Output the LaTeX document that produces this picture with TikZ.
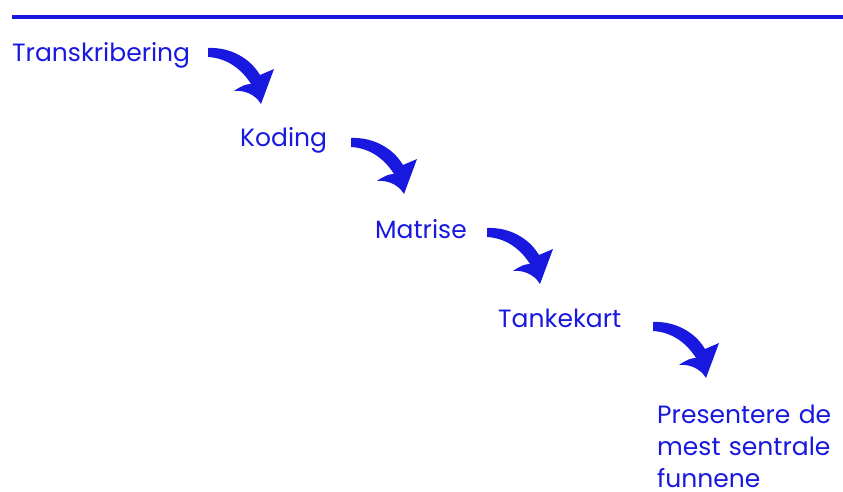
\documentclass[tikz,border=0pt]{standalone}
\usepackage{fontspec}
\setmainfont{Poppins}
\definecolor{ablue}{RGB}{24,24,222}
\begin{document}
\begin{tikzpicture}[x=1pt,y=-1pt,
  lbl/.style={anchor=base west,inner sep=0pt,text=ablue,font=\fontsize{25}{32}\selectfont},
  bendarrow/.pic={
    \fill[ablue] (0,0) .. controls (22,-1) and (42,10) .. (52,27)
     -- (66,21) -- (53,56)
     .. controls (47,46) and (36,42) .. (26,43)
     .. controls (33,38) and (38,36) .. (43,36)
     .. controls (33,20) and (18,10) .. (0,9) -- cycle;
  }]
\useasboundingbox (0,0) rectangle (843,491);
\draw[ablue,line width=4pt] (12,17) -- (843,17);
\node[lbl] (t1) at (12,61) {Transkribering};
\node[lbl] (t2) at (240,146) {Koding};
\node[lbl] (t3) at (375,238) {Matrise};
\node[lbl] (t4) at (498,327) {Tankekart};
\node[lbl,align=left,text width=185pt,anchor=north west,text depth=0pt] (t5) at (657,405) {Presentere de\\mest sentrale\\funnene};
\coordinate (a1) at (208,48);
\coordinate (a2) at (351,138);
\coordinate (a3) at (487,228);
\coordinate (a4) at (653,322);
\pic at (a1) {bendarrow};
\pic at (a2) {bendarrow};
\pic at (a3) {bendarrow};
\pic at (a4) {bendarrow};
\end{tikzpicture}
\end{document}
